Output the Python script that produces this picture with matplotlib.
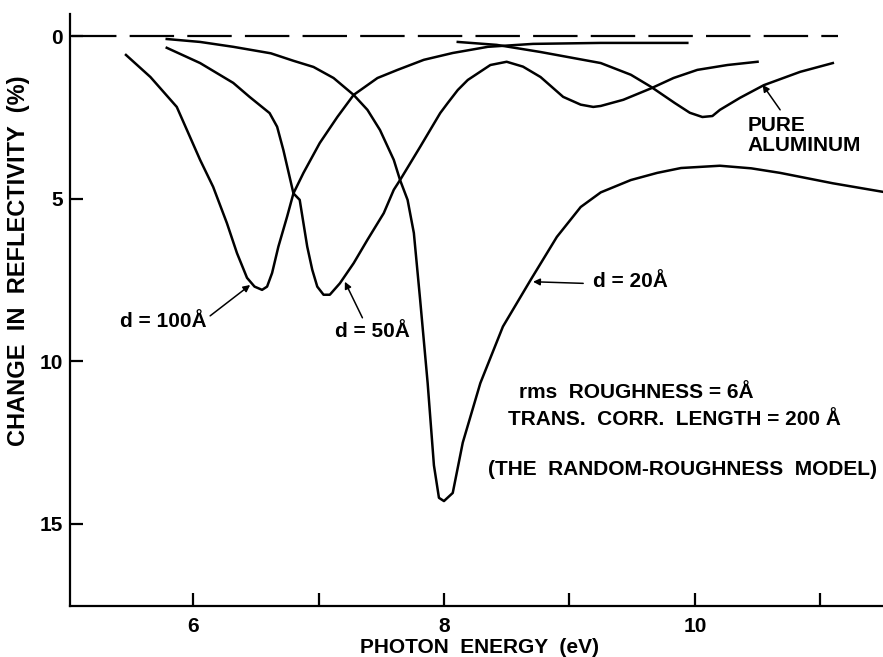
"""
Change in reflectivity vs photon energy for rough Al films (random-roughness model).
"""
import matplotlib
matplotlib.use('Agg')
import matplotlib.pyplot as plt

plt.rcParams['font.family'] = ['Liberation Sans', 'DejaVu Sans']
plt.rcParams['font.weight'] = 'bold'
plt.rcParams['axes.labelweight'] = 'bold'
plt.rcParams['lines.scale_dashes'] = False

# d = 100 A
d100_x = [5.465, 5.66, 5.87, 6.056, 6.16, 6.27, 6.35, 6.43, 6.49, 6.55, 6.59, 6.63,
          6.68, 6.75, 6.80, 6.88, 7.01, 7.15, 7.28, 7.47, 7.63, 7.84, 8.07, 8.35,
          8.71, 9.25, 9.94]
d100_y = [0.57, 1.25, 2.17, 3.8, 4.63, 5.75, 6.67, 7.43, 7.7, 7.8, 7.7, 7.28,
          6.47, 5.54, 4.83, 4.2, 3.28, 2.48, 1.8, 1.28, 1.03, 0.72, 0.51, 0.32,
          0.23, 0.2, 0.2]

# d = 50 A
d50_x = [5.79, 6.056, 6.32, 6.45, 6.61, 6.67, 6.72, 6.80, 6.85, 6.88, 6.91, 6.95,
         6.99, 7.04, 7.09, 7.17, 7.28, 7.39, 7.52, 7.60, 7.65, 7.81, 7.97, 8.03,
         8.11, 8.19, 8.37, 8.50, 8.63, 8.77, 8.95, 9.09, 9.19, 9.25, 9.43, 9.65,
         9.83, 10.02, 10.26, 10.5]
d50_y = [0.35, 0.82, 1.43, 1.86, 2.36, 2.78, 3.5, 4.83, 5.03, 5.75, 6.47, 7.18,
         7.7, 7.95, 7.95, 7.6, 6.98, 6.26, 5.44, 4.72, 4.42, 3.4, 2.36, 2.05,
         1.65, 1.34, 0.88, 0.78, 0.93, 1.25, 1.86, 2.1, 2.17, 2.14, 1.95, 1.6,
         1.28, 1.03, 0.88, 0.78]

# d = 20 A
d20_x = [5.79, 6.056, 6.32, 6.62, 6.80, 6.96, 7.12, 7.28, 7.39, 7.49, 7.60, 7.65,
         7.71, 7.76, 7.81, 7.87, 7.92, 7.96, 8.0, 8.07, 8.15, 8.29, 8.47, 8.69,
         8.90, 9.09, 9.25, 9.49, 9.7, 9.89, 10.2, 10.45, 10.68, 11.1, 11.6]
d20_y = [0.08, 0.17, 0.32, 0.52, 0.75, 0.94, 1.28, 1.8, 2.26, 2.88, 3.8, 4.42,
         5.03, 6.05, 8.1, 10.67, 13.2, 14.2, 14.3, 14.05, 12.5, 10.67, 8.93, 7.5,
         6.17, 5.25, 4.8, 4.42, 4.2, 4.05, 3.98, 4.06, 4.2, 4.52, 4.85]

# pure aluminum
al_x = [8.11, 8.42, 8.77, 9.25, 9.49, 9.65, 9.84, 9.96, 10.06, 10.14, 10.2, 10.36,
        10.55, 10.84, 11.1]
al_y = [0.17, 0.26, 0.48, 0.82, 1.18, 1.55, 2.05, 2.35, 2.48, 2.45, 2.26, 1.89,
        1.5, 1.09, 0.82]

zero_x = [5.035, 11.14]
zero_y = [0, 0]

x_ticks = [6, 7, 8, 9, 10, 11]
x_ticklabels = ['6', '', '8', '', '10', '']
y_ticks = [0, 5, 10, 15]

fig = plt.figure(figsize=(8.83, 6.57), dpi=100)
ax = fig.add_axes([0.0793, 0.0776, 0.9207, 0.9011])

lw = 1.8
for xs, ys in [(d100_x, d100_y), (d50_x, d50_y), (d20_x, d20_y), (al_x, al_y)]:
    ax.plot(xs, ys, color='black', lw=lw, solid_joinstyle='round')
ax.plot(zero_x, zero_y, color='black', lw=1.6, dashes=(32, 9.5))

ax.set_xlim(5.019, 11.50)
ax.set_ylim(17.53, -0.69)

ax.spines['top'].set_visible(False)
ax.spines['right'].set_visible(False)
ax.spines['left'].set_linewidth(1.6)
ax.spines['bottom'].set_linewidth(1.6)

ax.set_xticks(x_ticks)
ax.set_xticklabels(x_ticklabels)
ax.set_yticks(y_ticks)
ax.tick_params(direction='in', length=9.5, width=1.6, labelsize=15)
ax.tick_params(axis='x', pad=8)
ax.tick_params(axis='y', pad=5)

ax.set_xlabel('PHOTON  ENERGY  (eV)', fontsize=15)
ax.set_ylabel('CHANGE  IN  REFLECTIVITY  (%)', fontsize=17)
ax.xaxis.set_label_coords(0.504, -0.054)
ax.yaxis.set_label_coords(-0.049, 0.584)

arrow = dict(arrowstyle='-|>', color='black', lw=1.1, mutation_scale=10,
             shrinkA=0, shrinkB=0)
ax.annotate('', xy=(6.455, 7.65), xytext=(6.136, 8.6), arrowprops=arrow)
ax.text(5.76, 8.78, 'd = 100Å', fontsize=15, ha='center', va='center')
ax.annotate('', xy=(7.21, 7.55), xytext=(7.35, 8.66), arrowprops=arrow)
ax.text(7.43, 9.09, 'd = 50Å', fontsize=15, ha='center', va='center')
ax.annotate('', xy=(8.71, 7.55), xytext=(9.11, 7.6), arrowprops=arrow)
ax.text(9.49, 7.55, 'd = 20Å', fontsize=15, ha='center', va='center')
ax.annotate('', xy=(10.54, 1.49), xytext=(10.68, 2.26), arrowprops=arrow)
ax.text(10.42, 3.06, 'PURE\nALUMINUM', fontsize=15, ha='left', va='center',
        linespacing=1.05)

ax.text(9.53, 10.97, 'rms  ROUGHNESS = 6Å', fontsize=15, ha='center', va='center')
ax.text(9.84, 11.8, 'TRANS.  CORR.  LENGTH = 200 Å', fontsize=15, ha='center', va='center')
ax.text(9.9, 13.34, '(THE  RANDOM-ROUGHNESS  MODEL)', fontsize=15, ha='center', va='center')

fig.savefig('out.png', dpi=100)
